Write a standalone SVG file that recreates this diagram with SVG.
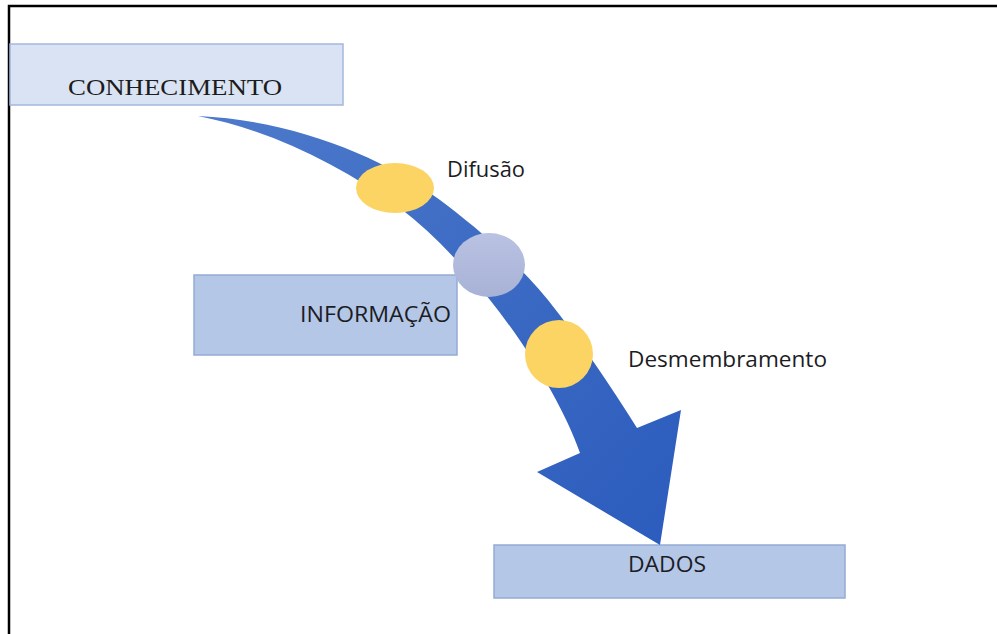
<svg xmlns="http://www.w3.org/2000/svg" width="997" height="634" viewBox="0 0 997 634">
  <defs>
    <linearGradient id="bandFill" gradientUnits="userSpaceOnUse" x1="198" y1="116" x2="660" y2="545">
      <stop offset="0" stop-color="#4d7acb"/>
      <stop offset="1" stop-color="#2c5cbd"/>
    </linearGradient>
    <linearGradient id="greyFill" x1="0" y1="0" x2="0" y2="1">
      <stop offset="0" stop-color="#b9c2e2"/>
      <stop offset="1" stop-color="#a8b2d6"/>
    </linearGradient>
  </defs>
  <style>
    .frame { stroke: #000; stroke-width: 2.5; fill: none; }
    .box-light { fill: #dae3f3; stroke: #a3b8de; stroke-width: 1.5; }
    .box { fill: #b4c7e7; stroke: #94abd6; stroke-width: 1.5; }
    .serif { font-family: "Liberation Serif", "Times New Roman", serif; fill: #1c1c1c; }
    .sans { font-family: "Open Sans", "Noto Sans", "Liberation Sans", sans-serif; fill: #1c1c24; }
    .dot-yellow { fill: #fbd463; }
  </style>

  <rect width="997" height="634" fill="#fff"/>

  <!-- page frame: top and left rules only -->
  <path class="frame" d="M9,634 V6 H997"/>

  <g id="conhecimento">
    <rect class="box-light" x="10" y="44" width="333" height="61"/>
    <text class="serif" x="68" y="95" font-size="23" textLength="214" lengthAdjust="spacingAndGlyphs">CONHECIMENTO</text>
  </g>

  <g id="informacao">
    <rect class="box" x="194" y="275" width="263" height="80"/>
    <text class="sans" x="300" y="322" font-size="21" textLength="151" lengthAdjust="spacingAndGlyphs">INFORMAÇÃO</text>
  </g>

  <g id="dados">
    <rect class="box" x="494" y="545" width="351" height="53"/>
    <text class="sans" x="628" y="572" font-size="22" textLength="78" lengthAdjust="spacingAndGlyphs">DADOS</text>
  </g>

  <!-- curved flow arrow from knowledge down to data -->
  <g id="connectors">
    <path id="flow-arrow" fill="url(#bandFill)"
      d="M198,116
         C290,120 380,155 440,200
         C480,230 520,265 548,300
         C580,340 610,385 637,428
         L681,410 L660,545 L537,472 L580,453
         C565,410 530,350 490,300
         C465,268 435,235 400,208
         C340,165 270,130 198,116 Z"/>
  </g>

  <g id="difusao">
    <ellipse class="dot-yellow" cx="395" cy="188" rx="39" ry="25"/>
    <text class="sans" x="447" y="177" font-size="21" textLength="78" lengthAdjust="spacingAndGlyphs">Difusão</text>
  </g>

  <g id="informacao-marker">
    <ellipse fill="url(#greyFill)" cx="489" cy="265" rx="36" ry="32"/>
  </g>

  <g id="desmembramento">
    <circle class="dot-yellow" cx="559" cy="354" r="34"/>
    <text class="sans" x="628" y="367" font-size="21" textLength="199" lengthAdjust="spacingAndGlyphs">Desmembramento</text>
  </g>
</svg>
